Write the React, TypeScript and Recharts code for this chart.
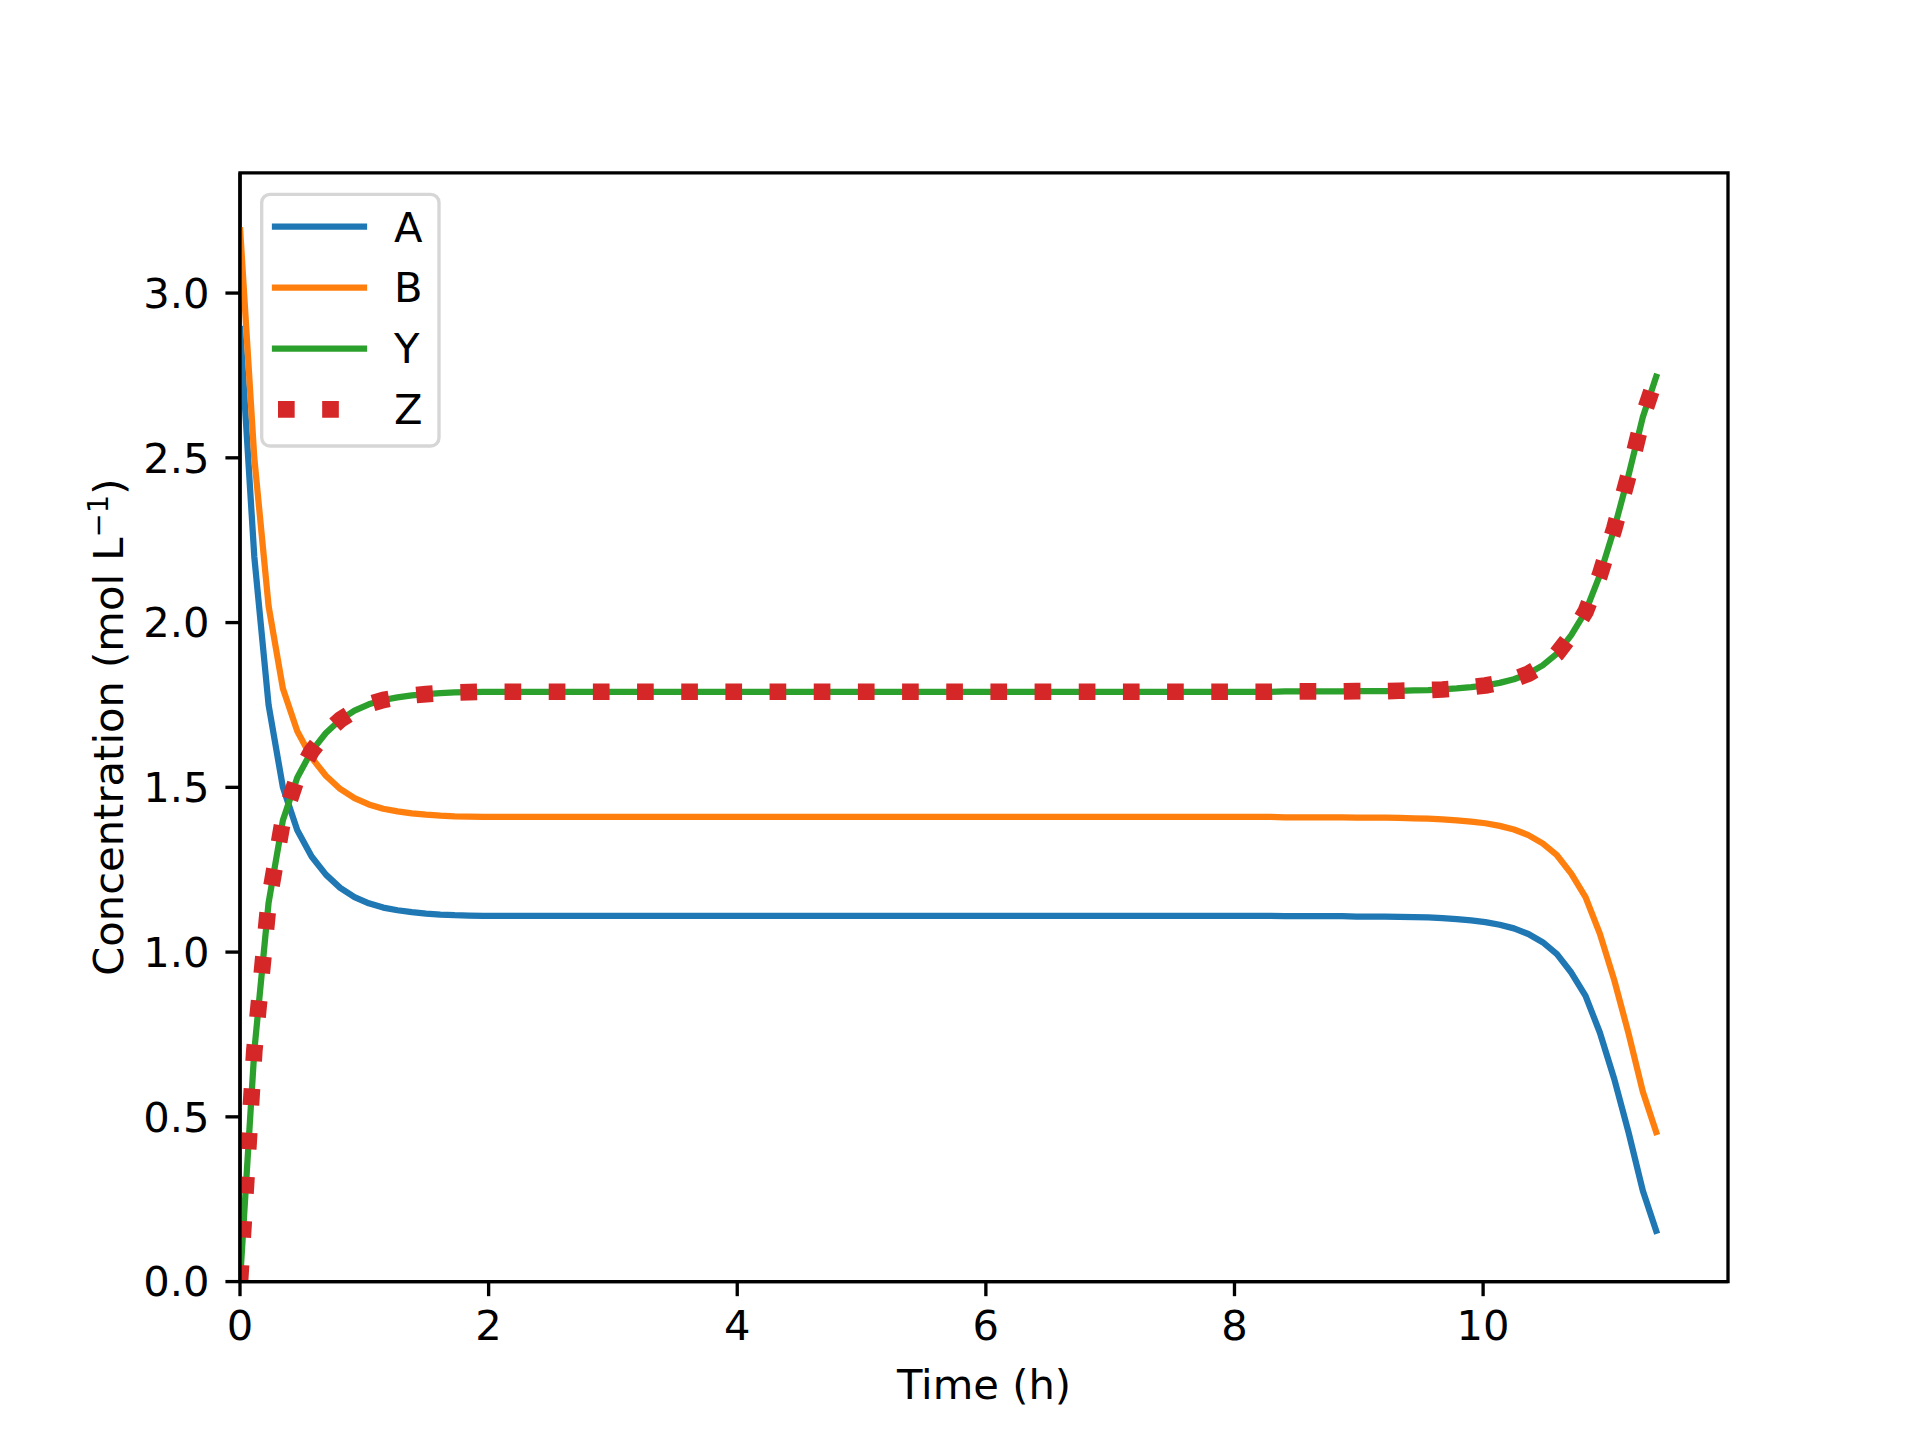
import React from 'react';
import { LineChart, Line, XAxis, YAxis, Legend, ReferenceArea } from 'recharts';

const timeH = [
  0, 0.115, 0.230, 0.345, 0.461, 0.576, 0.691, 0.806, 0.921, 1.036,
  1.152, 1.267, 1.382, 1.497, 1.612, 1.727, 1.842, 1.958, 2.073, 2.188,
  2.303, 2.418, 2.533, 2.648, 2.764, 2.879, 2.994, 3.109, 3.224, 3.339,
  3.455, 3.570, 3.685, 3.800, 3.915, 4.030, 4.145, 4.261, 4.376, 4.491,
  4.606, 4.721, 4.836, 4.952, 5.067, 5.182, 5.297, 5.412, 5.527, 5.642,
  5.758, 5.873, 5.988, 6.103, 6.218, 6.333, 6.448, 6.564, 6.679, 6.794,
  6.909, 7.024, 7.139, 7.255, 7.370, 7.485, 7.600, 7.715, 7.830, 7.945,
  8.061, 8.176, 8.291, 8.406, 8.521, 8.636, 8.752, 8.867, 8.982, 9.097,
  9.212, 9.327, 9.442, 9.558, 9.673, 9.788, 9.903, 10.018, 10.133, 10.248,
  10.364, 10.479, 10.594, 10.709, 10.824, 10.939, 11.055, 11.170, 11.285, 11.400,
];

const seriesA = [
  2.90, 2.20, 1.75, 1.50, 1.37, 1.29, 1.235, 1.195, 1.167, 1.148,
  1.135, 1.127, 1.121, 1.117, 1.114, 1.112, 1.111, 1.110, 1.110, 1.110,
  1.110, 1.110, 1.110, 1.110, 1.110, 1.110, 1.110, 1.110, 1.110, 1.110,
  1.110, 1.110, 1.110, 1.110, 1.110, 1.110, 1.110, 1.110, 1.110, 1.110,
  1.110, 1.110, 1.110, 1.110, 1.110, 1.110, 1.110, 1.110, 1.110, 1.110,
  1.110, 1.110, 1.110, 1.110, 1.110, 1.110, 1.110, 1.110, 1.110, 1.110,
  1.110, 1.110, 1.110, 1.110, 1.110, 1.110, 1.110, 1.110, 1.110, 1.110,
  1.110, 1.110, 1.110, 1.109, 1.109, 1.109, 1.109, 1.109, 1.108, 1.108,
  1.108, 1.107, 1.106, 1.105, 1.103, 1.100, 1.096, 1.091, 1.083, 1.072,
  1.055, 1.030, 0.994, 0.938, 0.867, 0.756, 0.615, 0.453, 0.276, 0.145,
];

const seriesB = [
  3.20, 2.50, 2.05, 1.80, 1.67, 1.59, 1.535, 1.495, 1.467, 1.448,
  1.435, 1.427, 1.421, 1.417, 1.414, 1.412, 1.411, 1.410, 1.410, 1.410,
  1.410, 1.410, 1.410, 1.410, 1.410, 1.410, 1.410, 1.410, 1.410, 1.410,
  1.410, 1.410, 1.410, 1.410, 1.410, 1.410, 1.410, 1.410, 1.410, 1.410,
  1.410, 1.410, 1.410, 1.410, 1.410, 1.410, 1.410, 1.410, 1.410, 1.410,
  1.410, 1.410, 1.410, 1.410, 1.410, 1.410, 1.410, 1.410, 1.410, 1.410,
  1.410, 1.410, 1.410, 1.410, 1.410, 1.410, 1.410, 1.410, 1.410, 1.410,
  1.410, 1.410, 1.410, 1.409, 1.409, 1.409, 1.409, 1.409, 1.408, 1.408,
  1.408, 1.407, 1.406, 1.405, 1.403, 1.400, 1.396, 1.391, 1.383, 1.372,
  1.355, 1.330, 1.294, 1.238, 1.167, 1.056, 0.915, 0.753, 0.576, 0.445,
];

const seriesY = [
  0, 0.70, 1.15, 1.40, 1.53, 1.61, 1.665, 1.705, 1.733, 1.752,
  1.765, 1.773, 1.779, 1.783, 1.786, 1.788, 1.789, 1.790, 1.790, 1.790,
  1.790, 1.790, 1.790, 1.790, 1.790, 1.790, 1.790, 1.790, 1.790, 1.790,
  1.790, 1.790, 1.790, 1.790, 1.790, 1.790, 1.790, 1.790, 1.790, 1.790,
  1.790, 1.790, 1.790, 1.790, 1.790, 1.790, 1.790, 1.790, 1.790, 1.790,
  1.790, 1.790, 1.790, 1.790, 1.790, 1.790, 1.790, 1.790, 1.790, 1.790,
  1.790, 1.790, 1.790, 1.790, 1.790, 1.790, 1.790, 1.790, 1.790, 1.790,
  1.790, 1.790, 1.790, 1.791, 1.791, 1.791, 1.791, 1.791, 1.792, 1.792,
  1.792, 1.793, 1.794, 1.795, 1.797, 1.800, 1.804, 1.809, 1.817, 1.828,
  1.845, 1.870, 1.906, 1.962, 2.033, 2.144, 2.285, 2.447, 2.624, 2.755,
];

const seriesZ = [
  0, 0.70, 1.15, 1.40, 1.53, 1.61, 1.665, 1.705, 1.733, 1.752,
  1.765, 1.773, 1.779, 1.783, 1.786, 1.788, 1.789, 1.790, 1.790, 1.790,
  1.790, 1.790, 1.790, 1.790, 1.790, 1.790, 1.790, 1.790, 1.790, 1.790,
  1.790, 1.790, 1.790, 1.790, 1.790, 1.790, 1.790, 1.790, 1.790, 1.790,
  1.790, 1.790, 1.790, 1.790, 1.790, 1.790, 1.790, 1.790, 1.790, 1.790,
  1.790, 1.790, 1.790, 1.790, 1.790, 1.790, 1.790, 1.790, 1.790, 1.790,
  1.790, 1.790, 1.790, 1.790, 1.790, 1.790, 1.790, 1.790, 1.790, 1.790,
  1.790, 1.790, 1.790, 1.791, 1.791, 1.791, 1.791, 1.791, 1.792, 1.792,
  1.792, 1.793, 1.794, 1.795, 1.797, 1.800, 1.804, 1.809, 1.817, 1.828,
  1.845, 1.870, 1.906, 1.962, 2.033, 2.144, 2.285, 2.447, 2.624, 2.755,
];

const xTicks = [0, 2, 4, 6, 8, 10];
const yTicks = [0, 0.5, 1.0, 1.5, 2.0, 2.5, 3.0];
const xDomain = [0, 11.97];
const yDomain = [0, 3.365];

const data = timeH.map((t, i) => ({
  t,
  A: seriesA[i],
  B: seriesB[i],
  Y: seriesY[i],
  Z: seriesZ[i],
}));

const FONT = 'DejaVu Sans';
const FS = 41.67;
const LW = 6.25;
const SPINE = 3.33;
const DOT_W = 16.67;
const DOT_DASH = '16.67 27.5';

const renderLegend = (props: any) => {
  const payload = props.payload || [];
  return (
    <svg width={200} height={270} style={{ display: 'block', overflow: 'visible' }}>
      <rect
        x={11.7}
        y={9.3}
        width={177.3}
        height={251.7}
        rx={8.3}
        ry={8.3}
        fill="#ffffff"
        fillOpacity={0.8}
        stroke="#d6d6d6"
        strokeWidth={SPINE}
      />
      {payload.map((entry: any, i: number) => {
        const y = 41.7 + i * 60.9;
        const isZ = entry.value === 'Z';
        return (
          <g key={entry.value}>
            <line
              x1={isZ ? 28 : 25}
              x2={114}
              y1={y}
              y2={y}
              stroke={entry.color}
              strokeWidth={isZ ? DOT_W : LW}
              strokeDasharray={isZ ? DOT_DASH : undefined}
              strokeLinecap={isZ ? 'butt' : 'square'}
            />
            <text
              x={144}
              y={y + 14.8}
              fontFamily={FONT}
              fontSize={FS}
              fill="#000"
            >
              {entry.value}
            </text>
          </g>
        );
      })}
    </svg>
  );
};

const XLabel = (props: any) => {
  const vb = props.viewBox || { x: 240, y: 1281.6, width: 1488, height: 60 };
  return (
    <text
      x={vb.x + vb.width / 2}
      y={vb.y + 117.7}
      textAnchor="middle"
      fontFamily={FONT}
      fontSize={FS}
      fill="#000"
    >
      Time (h)
    </text>
  );
};

const YLabel = (props: any) => {
  const vb = props.viewBox || { x: 160, y: 172.8, width: 80, height: 1108.8 };
  const cx = vb.x - 37;
  const cy = vb.y + vb.height / 2;
  return (
    <text
      x={cx}
      y={cy}
      transform={`rotate(-90, ${cx}, ${cy})`}
      textAnchor="middle"
      fontFamily={FONT}
      fontSize={FS}
      fill="#000"
    >
      Concentration (mol L
      <tspan dy={-15} fontSize={29}>−1</tspan>
      <tspan dy={15}>)</tspan>
    </text>
  );
};

export default function App() {
  return (
    <div style={{ position: 'absolute', left: 0, top: 0, width: 1920, height: 1440, background: '#fff' }}>
      <LineChart
        width={1920}
        height={1440}
        data={data}
        margin={{ top: 172.8, right: 192, bottom: 98.4, left: 160 }}
      >
        <XAxis
          type="number"
          dataKey="t"
          domain={xDomain}
          ticks={xTicks}
          allowDataOverflow
          height={60}
          tickSize={14.58}
          tickMargin={14}
          tick={{ fill: '#000', fontSize: FS, fontFamily: FONT }}
          tickLine={{ stroke: '#000', strokeWidth: SPINE }}
          axisLine={{ stroke: '#000', strokeWidth: SPINE }}
          label={{ content: XLabel }}
        />
        <YAxis
          type="number"
          domain={yDomain}
          ticks={yTicks}
          allowDataOverflow
          width={80}
          tickSize={14.58}
          tickMargin={16}
          tickFormatter={(v: number) => v.toFixed(1)}
          tick={{ fill: '#000', fontSize: FS, fontFamily: FONT }}
          tickLine={{ stroke: '#000', strokeWidth: SPINE }}
          axisLine={{ stroke: '#000', strokeWidth: SPINE }}
          label={{ content: YLabel }}
        />
        <Line
          type="linear"
          dataKey="A"
          name="A"
          stroke="#1f77b4"
          strokeWidth={LW}
          strokeLinejoin="round"
          dot={false}
          activeDot={false}
          isAnimationActive={false}
        />
        <Line
          type="linear"
          dataKey="B"
          name="B"
          stroke="#ff7f0e"
          strokeWidth={LW}
          strokeLinejoin="round"
          dot={false}
          activeDot={false}
          isAnimationActive={false}
        />
        <Line
          type="linear"
          dataKey="Y"
          name="Y"
          stroke="#2ca02c"
          strokeWidth={LW}
          strokeLinejoin="round"
          dot={false}
          activeDot={false}
          isAnimationActive={false}
        />
        <Line
          type="linear"
          dataKey="Z"
          name="Z"
          stroke="#d62728"
          strokeWidth={DOT_W}
          strokeDasharray={DOT_DASH}
          strokeLinecap="butt"
          strokeLinejoin="round"
          dot={false}
          activeDot={false}
          isAnimationActive={false}
        />
        <ReferenceArea
          x1={xDomain[0]}
          x2={xDomain[1]}
          y1={yDomain[0]}
          y2={yDomain[1]}
          ifOverflow="visible"
          fill="none"
          fillOpacity={0}
          stroke="#000"
          strokeWidth={SPINE}
        />
        <Legend
          layout="vertical"
          align="center"
          verticalAlign="middle"
          content={renderLegend}
          wrapperStyle={{ left: 250, top: 185, width: 200, height: 270, margin: 0, padding: 0 }}
        />
      </LineChart>
    </div>
  );
}
